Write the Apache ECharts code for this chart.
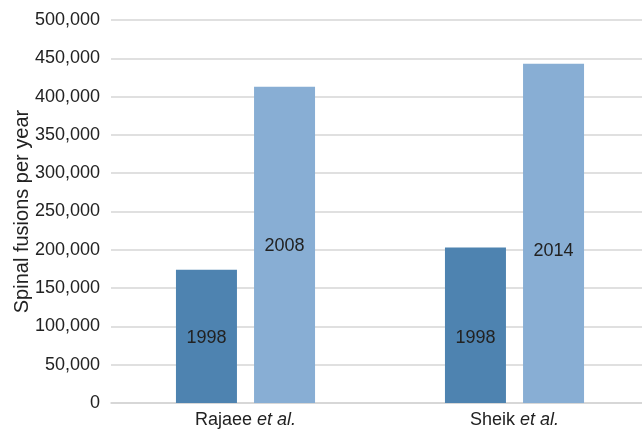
<!DOCTYPE html>
<html>
<head>
<meta charset="utf-8">
<style>
  html, body { margin: 0; padding: 0; background: #ffffff; }
  #chart { width: 642px; height: 432px; }
</style>
<script src="https://cdn.jsdelivr.net/npm/echarts@6/dist/echarts.min.js"></script>
</head>
<body>
<div id="chart"></div>
<script>
// Study groups on the x axis
const studies = ['Rajaee', 'Sheik'];
// Spinal fusions per year: earlier and later survey year of each study
const earlyValues = [174000, 203000];
const lateValues = [413000, 443000];
// Year written on each bar
const earlyYears = ['1998', '1998'];
const lateYears = ['2008', '2014'];
// Vertical nudge of each year label inside its bar
const earlyLabelShift = [2, 13];
const lateLabelShift = [1, 18];

const font = '"Liberation Sans", Arial, Helvetica, sans-serif';
const textColor = '#222222';
const fontSize = 18;

function barData(values, years, shifts) {
  return values.map((v, i) => ({
    value: v,
    label: { formatter: years[i], offset: [0, shifts[i]] }
  }));
}

const chart = echarts.init(document.getElementById('chart'));
chart.setOption({
  animation: false,
  grid: { left: 111, top: 20, bottom: 29, width: 538, outerBoundsMode: 'none', containLabel: false },
  xAxis: {
    type: 'category',
    data: studies,
    axisTick: { show: false },
    axisLine: { lineStyle: { color: '#d3d3d3', width: 1.5 } },
    axisLabel: {
      margin: 8,
      fontFamily: font,
      fontSize: fontSize,
      color: textColor,
      formatter: v => '{n|' + v + ' }{i|et al.}',
      rich: {
        n: { fontFamily: font, fontSize: fontSize, color: textColor },
        i: { fontFamily: font, fontSize: fontSize, color: textColor, fontStyle: 'italic' }
      }
    }
  },
  yAxis: {
    type: 'value',
    min: 0,
    max: 500000,
    interval: 50000,
    name: 'Spinal fusions per year',
    nameLocation: 'middle',
    nameGap: 79,
    nameMoveOverlap: false,
    nameTextStyle: { fontFamily: font, fontSize: 20, color: textColor },
    axisLine: { show: false },
    axisTick: { show: false },
    splitLine: { lineStyle: { color: '#d6d6d6', width: 1.5 } },
    axisLabel: {
      margin: 11,
      fontFamily: font,
      fontSize: fontSize,
      color: textColor,
      formatter: v => v.toLocaleString('en-US')
    }
  },
  series: [
    {
      name: 'early',
      type: 'bar',
      barWidth: 61,
      barGap: '28%',
      itemStyle: { color: '#4e83b0' },
      label: {
        show: true,
        position: 'inside',
        fontFamily: font,
        fontSize: fontSize,
        color: textColor
      },
      data: barData(earlyValues, earlyYears, earlyLabelShift)
    },
    {
      name: 'late',
      type: 'bar',
      barWidth: 61,
      itemStyle: { color: '#88aed4' },
      label: {
        show: true,
        position: 'inside',
        fontFamily: font,
        fontSize: fontSize,
        color: textColor
      },
      data: barData(lateValues, lateYears, lateLabelShift)
    }
  ]
});
</script>
</body>
</html>
